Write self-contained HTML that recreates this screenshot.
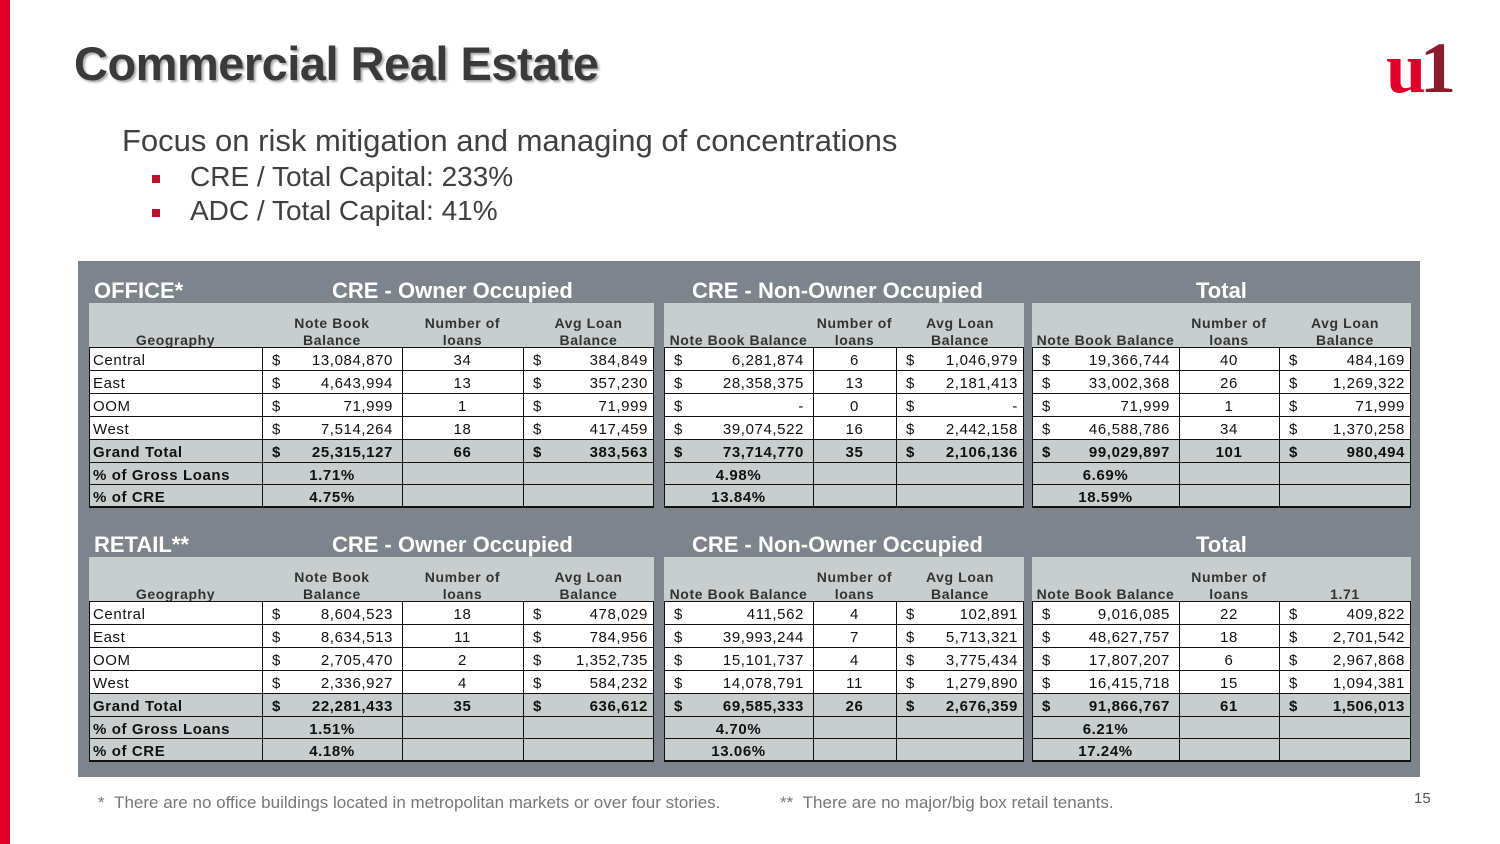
<!DOCTYPE html>
<html><head><meta charset="utf-8">
<style>
body{margin:0;width:1500px;height:844px;background:#fff;position:relative;overflow:hidden;font-family:"Liberation Sans",sans-serif}
.a{position:absolute}
.c{position:absolute;box-sizing:border-box;font-size:15px;color:#111;white-space:nowrap;overflow:hidden;line-height:27px;letter-spacing:0.6px}
.h{position:absolute;font-size:14px;font-weight:bold;color:#333;text-align:center;line-height:17px;letter-spacing:0.6px}
.gt{position:absolute;color:#fff;font-weight:bold;font-size:22px;white-space:nowrap}
</style></head><body>
<div class="a" style="left:0;top:0;width:10px;height:844px;background:#e0002a"></div>
<div class="a" style="left:74px;top:36px;font-size:47px;font-weight:bold;color:#3a3a3a;text-shadow:2px 2px 2px #aaa;letter-spacing:-0.5px">Commercial Real Estate</div>
<div class="a" style="left:1386px;top:38px;font-family:'Liberation Serif',serif;font-weight:bold;font-size:72px;line-height:60px;letter-spacing:-6px"><span style="color:#e0002a">u</span><span style="color:#8c1c2c">1</span></div>
<div class="a" style="left:122px;top:123px;font-size:31px;color:#404040">Focus on risk mitigation and managing of concentrations</div>
<div class="a" style="left:152px;top:161px;font-size:28px;color:#404040"><span style="display:inline-block;width:8px;height:8px;background:#c0102a;vertical-align:middle;margin-right:30px"></span>CRE / Total Capital: 233%</div>
<div class="a" style="left:152px;top:195px;font-size:28px;color:#404040"><span style="display:inline-block;width:8px;height:8px;background:#c0102a;vertical-align:middle;margin-right:30px"></span>ADC / Total Capital: 41%</div>
<div class="a" style="left:78px;top:261px;width:1342px;height:516px;background:#7d848b"></div>
<div class="a" style="left:98px;top:793px;font-size:17px;color:#777">* &nbsp;There are no office buildings located in metropolitan markets or over four stories.</div>
<div class="a" style="left:780px;top:793px;font-size:17px;color:#777">** &nbsp;There are no major/big box retail tenants.</div>
<div class="a" style="left:1414px;top:790px;font-size:15px;color:#555">15</div>
<div id="root"></div>
<script>
const geos=["Central","East","OOM","West","Grand Total","% of Gross Loans","% of CRE"];
const officeOO=[["13,084,870","34","384,849"],["4,643,994","13","357,230"],["71,999","1","71,999"],["7,514,264","18","417,459"],["25,315,127","66","383,563"],["1.71%"],["4.75%"]];
const officeNOO=[["6,281,874","6","1,046,979"],["28,358,375","13","2,181,413"],["-","0","-"],["39,074,522","16","2,442,158"],["73,714,770","35","2,106,136"],["4.98%"],["13.84%"]];
const officeTot=[["19,366,744","40","484,169"],["33,002,368","26","1,269,322"],["71,999","1","71,999"],["46,588,786","34","1,370,258"],["99,029,897","101","980,494"],["6.69%"],["18.59%"]];
const retailOO=[["8,604,523","18","478,029"],["8,634,513","11","784,956"],["2,705,470","2","1,352,735"],["2,336,927","4","584,232"],["22,281,433","35","636,612"],["1.51%"],["4.18%"]];
const retailNOO=[["411,562","4","102,891"],["39,993,244","7","5,713,321"],["15,101,737","4","3,775,434"],["14,078,791","11","1,279,890"],["69,585,333","26","2,676,359"],["4.70%"],["13.06%"]];
const retailTot=[["9,016,085","22","409,822"],["48,627,757","18","2,701,542"],["17,807,207","6","2,967,868"],["16,415,718","15","1,094,381"],["91,866,767","61","1,506,013"],["6.21%"],["17.24%"]];
const root=document.getElementById('root');
const rowB=[0,23,46,69,92,115,137,159];
function mk(cls,x,y,w,h,html,name,style){
  const el=document.createElement('div');
  el.className=cls;
  el.style.cssText=`left:${x}px;top:${y}px;width:${w}px;height:${h}px;`+(style||'');
  el.innerHTML=html;
  
  
  root.appendChild(el);return el;
}
function group(cols,y0,data,hdrs,gname,withGeo){
  const x0=cols[0][0],x1=cols[cols.length-1][1];
  mk('a',x0,y0-44,x1-x0,44,'',gname+'-header-bg','background:#c8cece');
  hdrs.forEach((t,i)=>{mk('h',cols[i][0],y0-44,cols[i][1]-cols[i][0],44,'<div style="position:absolute;bottom:-2px;width:100%">'+t+'</div>',gname+'-col-header','');});
  const off=withGeo?1:0;
  for(let r=0;r<7;r++){
    const y=y0+rowB[r],h=rowB[r+1]-rowB[r];
    const bg=r>=4?'#c8cece':'#fff';
    const bold=r>=4?'font-weight:bold;':'';
    mk('a',x0,y,x1-x0,h,'',gname+'-row-bg','background:'+bg+';border-top:1px solid #111;box-sizing:border-box');
    if(withGeo) mk('c',cols[0][0],y,cols[0][1]-cols[0][0],h,geos[r],'geo-label','padding-left:4px;'+bold);
    const d=data[r];
    if(d.length===1){
      mk('c',cols[off][0],y,cols[off][1]-cols[off][0],h,d[0],gname+'-pct','text-align:center;font-weight:bold');
    } else {
      mk('c',cols[off][0],y,cols[off][1]-cols[off][0],h,'$','dollar','padding-left:10px;'+bold);
      mk('c',cols[off][0],y,cols[off][1]-cols[off][0],h,d[0],gname+'-balance','text-align:right;padding-right:9px;'+bold);
      mk('c',cols[off+1][0],y,cols[off+1][1]-cols[off+1][0],h,d[1],gname+'-count','text-align:center;'+bold);
      mk('c',cols[off+2][0],y,cols[off+2][1]-cols[off+2][0],h,'$','dollar','padding-left:10px;'+bold);
      mk('c',cols[off+2][0],y,cols[off+2][1]-cols[off+2][0],h,d[2],gname+'-avg','text-align:right;padding-right:6px;'+bold);
    }
  }
  mk('a',x0,y0+159,x1-x0,2,'',gname+'-bottom-line','background:#111');
  cols.forEach((c,i)=>{mk('a',c[0],y0,1,159,'',gname+'-vline','background:#111');});
  mk('a',x1-1,y0,1,159,'',gname+'-vline','background:#111');
}
const g1=[[89,262],[262,402],[402,523],[523,654]];
const g2=[[664,813],[813,896],[896,1024]];
const g3=[[1032,1179],[1179,1279],[1279,1411]];
function table(y0,title,d1,d2,d3,name,lastHdr){
  mk('gt',94,y0-69,200,28,title,name+'-title','');
  mk('gt',332,y0-69,320,28,'CRE - Owner Occupied',name+'-oo-title','');
  mk('gt',692,y0-69,340,28,'CRE - Non-Owner Occupied',name+'-noo-title','');
  mk('gt',1196,y0-69,100,28,'Total',name+'-total-title','');
  group(g1,y0,d1,['Geography','Note Book<br>Balance','Number of<br>loans','Avg Loan<br>Balance'],name+'-oo',true);
  group(g2,y0,d2,['Note Book Balance','Number of<br>loans','Avg Loan<br>Balance'],name+'-noo',false);
  group(g3,y0,d3,['Note Book Balance','Number of<br>loans',lastHdr],name+'-total',false);
}
table(347,'OFFICE*',officeOO,officeNOO,officeTot,'office','Avg Loan<br>Balance');
table(601,'RETAIL**',retailOO,retailNOO,retailTot,'retail','1.71');
</script>
</body></html>
